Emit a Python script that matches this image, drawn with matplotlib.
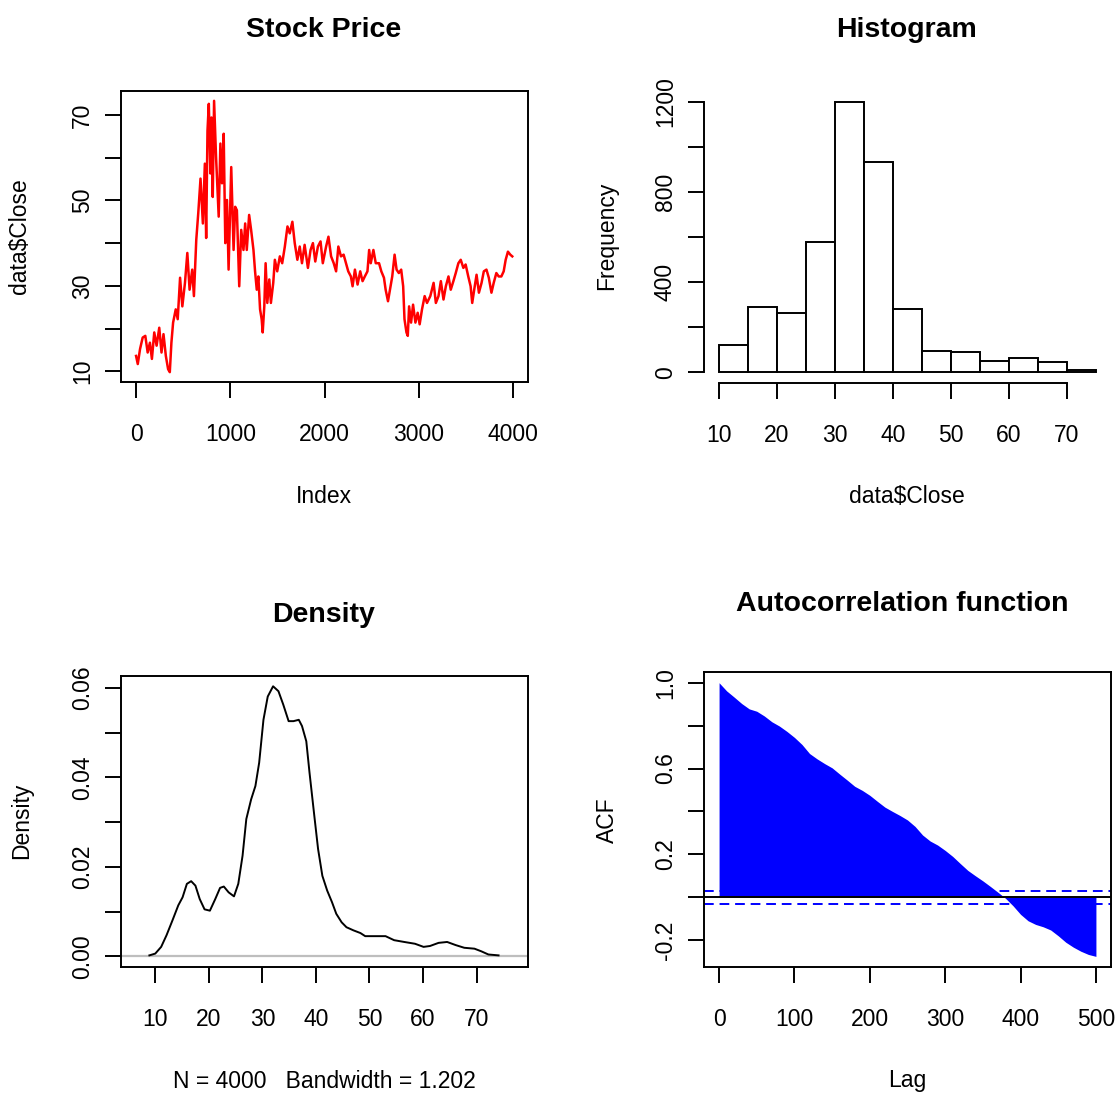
import matplotlib
matplotlib.use('Agg')
from matplotlib import pyplot as plt
import numpy as np

plt.rcParams['font.family'] = ['Liberation Sans', 'DejaVu Sans']

# closing price, sampled along the series (index, value)
price_index = [0, 18, 42, 70, 98, 123, 147, 168, 193, 218, 246, 270, 291, 316, 340, 358,
               375, 393, 421, 442, 467, 491, 519, 544, 568, 596, 614, 639, 660,
               684, 709, 730, 744, 758, 772, 789, 800, 814, 828, 849, 877, 895, 912, 930,
               947, 965, 982, 1010, 1035, 1052,
               1070, 1095, 1116, 1140, 1158, 1175, 1200, 1221, 1246, 1263, 1281, 1298,
               1316, 1333, 1344, 1361, 1375, 1393, 1414, 1431, 1456, 1473, 1498, 1526,
               1551, 1579, 1607, 1631, 1659, 1684, 1712, 1737, 1761, 1789, 1824, 1852,
               1877, 1902, 1930, 1958, 1982, 2017, 2042,
               2070, 2098, 2123, 2147, 2175, 2203, 2228, 2252, 2280, 2298, 2323, 2351,
               2379, 2404, 2428, 2456, 2474, 2491, 2519, 2544, 2579, 2603, 2631, 2649,
               2674, 2695, 2719, 2744, 2765, 2789, 2814, 2835, 2849, 2870, 2884, 2898,
               2919, 2940, 2965, 2989, 3010,
               3035, 3063, 3088, 3123, 3158, 3182, 3210, 3235, 3263, 3288, 3316, 3340,
               3368, 3393, 3421, 3446, 3474, 3498, 3526, 3551, 3568, 3589, 3614, 3639,
               3667, 3691, 3719, 3744, 3772, 3796, 3824, 3849, 3877, 3902, 3923, 3947,
               3972, 3993]
price_close = [13.6, 11.7, 15.2, 17.9, 18.3, 14.4, 16.7, 12.9, 19.1, 16.0, 20.2, 14.4, 18.7,
               13.6, 10.5, 9.8, 16.7, 21.4, 24.5, 22.2, 31.9, 25.2, 30.7, 37.7, 29.1, 33.8,
               27.6, 40.8, 47.0,
               55.1, 44.6, 58.6, 41.2, 66.3, 72.6, 56.3, 69.4, 50.8, 73.3, 60.1, 46.2, 63.3,
               54.0, 65.6, 40.0, 50.1, 33.8, 57.8, 38.4, 48.5,
               47.7, 29.9, 43.1, 38.4, 44.6, 38.4, 46.6, 43.1, 38.4, 33.4, 29.1, 32.2, 24.5,
               22.2, 19.1, 25.2, 35.3, 26.0, 31.5, 26.0, 30.7, 36.1, 33.4, 36.9, 35.3, 39.2,
               43.9, 42.3, 45.0, 40.0, 36.1, 39.2, 35.3, 39.6, 34.2, 38.4, 40.0, 35.7, 39.2,
               40.4, 35.3, 39.2, 41.5,
               36.9, 35.3, 33.4, 39.2, 36.9, 37.3, 35.3, 33.4, 32.2, 29.9, 33.8, 30.3, 33.4,
               31.1, 32.2, 33.4, 38.4, 35.3, 38.4, 35.3, 35.3, 33.4, 31.9, 29.1, 26.4, 29.1,
               32.2, 37.3, 33.8, 33.0, 33.8, 29.9, 22.2, 19.1, 18.3, 25.2, 21.4, 25.6, 21.4,
               23.7, 21.0,
               24.5, 27.6, 26.0, 27.6, 30.7, 26.0, 27.6, 31.1, 26.8, 29.9, 32.2, 29.1, 31.1,
               33.0, 35.3, 36.1, 34.2, 35.0, 32.2, 29.9, 26.0, 29.1, 32.6, 28.4, 30.7, 33.4,
               33.8, 31.9, 28.4, 30.7, 33.0, 32.2, 32.2, 33.4, 36.1, 38.0, 37.3, 36.9]

# histogram of closing prices
hist_edges = [10, 15, 20, 25, 30, 35, 40, 45, 50, 55, 60, 65, 70, 75]
hist_counts = [120, 288, 262, 580, 1200, 932, 280, 95, 88, 50, 62, 45, 8]

# kernel density estimate
dens_x = [8.9, 10.0, 11.1, 12.1, 13.2, 14.3, 15.1, 15.9, 16.7, 17.5, 18.3, 19.2, 20.2,
          21.2, 22.1, 22.8, 23.7, 24.7, 25.5, 26.3, 27.0, 27.9, 28.7, 29.4, 30.2, 31.0,
          32.0, 33.0, 33.9, 34.9, 35.8, 36.8, 37.4, 38.2, 38.8, 39.7, 40.4, 41.2, 42.1,
          43.0, 43.8, 44.8, 45.7, 47.0, 48.3, 49.2, 51.1, 53.0, 54.6, 56.5, 58.5, 60.1,
          61.3, 62.9, 64.5, 66.1, 67.7, 69.6, 70.9, 72.2, 74.1]
dens_y = [0.0002, 0.0006, 0.0021, 0.0047, 0.0080, 0.0114, 0.0132, 0.0162, 0.0168, 0.0158,
          0.0128, 0.0105, 0.0102, 0.0128, 0.0153, 0.0156, 0.0143, 0.0134, 0.0162, 0.0225,
          0.0307, 0.0351, 0.0381, 0.0433, 0.0529, 0.0581, 0.0604, 0.0593, 0.0563, 0.0526,
          0.0526, 0.0529, 0.0515, 0.0481, 0.0411, 0.0314, 0.0240, 0.0180, 0.0147, 0.0121,
          0.0095, 0.0076, 0.0065, 0.0058, 0.0052, 0.0045, 0.0045, 0.0045, 0.0036, 0.0032,
          0.0028, 0.0021, 0.0023, 0.0030, 0.0032, 0.0025, 0.0019, 0.0017, 0.0011, 0.0004,
          0.0002]

# autocorrelation, every 10 lags
acf_lag = list(range(0, 501, 10))
acf_val = [1.000, 0.962, 0.933, 0.903, 0.878, 0.867, 0.845, 0.818, 0.798, 0.773,
           0.745, 0.712, 0.670, 0.645, 0.623, 0.603, 0.574, 0.546, 0.517, 0.498,
           0.475, 0.447, 0.420, 0.400, 0.381, 0.360, 0.330, 0.290, 0.262, 0.243,
           0.218, 0.190, 0.157, 0.125, 0.100, 0.076, 0.050, 0.023, -0.005, -0.040,
           -0.080, -0.110, -0.127, -0.138, -0.153, -0.180, -0.210, -0.233, -0.252,
           -0.267, -0.276]
acf_ci = 0.031

W, H = 1118, 1095
fig = plt.figure(figsize=(W / 100, H / 100), dpi=100)

TICK = 16.5
TITLE = 20.5
LW = 1.4


def px_axes(l, t, r, b):
    return fig.add_axes([l / W, 1 - b / H, (r - l) / W, (b - t) / H])


def ptext(x, y, s, **kw):
    kw.setdefault('ha', 'center')
    kw.setdefault('va', 'center')
    fig.text(x / W, 1 - y / H, s, **kw)


def r_style(ax, yticks, ylabels):
    ax.set_yticks(yticks)
    ax.set_yticklabels(ylabels, rotation=90, va='center')
    ax.tick_params(axis='x', length=11.5, width=LW, pad=18, labelsize=TICK)
    ax.tick_params(axis='y', length=11.5, width=LW, pad=8, labelsize=TICK)
    for s in ax.spines.values():
        s.set_linewidth(LW)


# Stock price
ax1 = px_axes(121, 91, 528, 382)
ax1.plot(price_index, price_close, color='#FF0000', lw=1.8)
ax1.set_xlim(-160, 4160)
ax1.set_ylim(7.5, 75.6)
ax1.set_xticks([0, 1000, 2000, 3000, 4000])
r_style(ax1, [10, 20, 30, 40, 50, 60, 70], ['10', '', '30', '', '50', '', '70'])
ptext(324, 30, 'Stock Price', fontsize=TITLE, fontweight='bold')
ptext(324, 496, 'Index', fontsize=TICK)
ptext(20, 236, 'data$Close', fontsize=TICK, rotation=90)

# Histogram
ax2 = px_axes(704, 91, 1111, 383)
ax2.bar(hist_edges[:-1], hist_counts, width=np.diff(hist_edges), align='edge',
        facecolor='white', edgecolor='black', linewidth=LW)
ax2.set_xlim(7.4, 77.6)
ax2.set_ylim(-48, 1248)
ax2.set_xticks([10, 20, 30, 40, 50, 60, 70])
r_style(ax2, [0, 200, 400, 600, 800, 1000, 1200], ['0', '', '400', '', '800', '', '1200'])
ax2.spines['top'].set_visible(False)
ax2.spines['right'].set_visible(False)
ax2.spines['left'].set_bounds(0, 1200)
ax2.spines['bottom'].set_bounds(10, 70)
ptext(907, 30, 'Histogram', fontsize=TITLE, fontweight='bold')
ptext(907, 496, 'data$Close', fontsize=TICK)
ptext(607, 236, 'Frequency', fontsize=TICK, rotation=90)

# Density
ax3 = px_axes(121, 676, 528, 967)
ax3.axhline(0, color='#BEBEBE', lw=1.6)
ax3.plot(dens_x, dens_y, color='black', lw=1.4)
ax3.set_xlim(3.6, 79.6)
ax3.set_ylim(-0.0024, 0.0627)
ax3.set_xticks([10, 20, 30, 40, 50, 60, 70])
r_style(ax3, [0, 0.01, 0.02, 0.03, 0.04, 0.05, 0.06],
        ['0.00', '', '0.02', '', '0.04', '', '0.06'])
ptext(324, 615, 'Density', fontsize=TITLE, fontweight='bold')
ptext(324, 1081, 'N = 4000   Bandwidth = 1.202', fontsize=TICK)
ptext(22, 821, 'Density', fontsize=TICK, rotation=90)

# Autocorrelation
ax4 = px_axes(704, 672, 1111, 967)
ax4.fill_between(acf_lag, 0, acf_val, color='#0000FF', linewidth=0)
ax4.axhline(0, color='black', lw=1.4)
ax4.axhline(acf_ci, color='#0000FF', lw=1.4, ls=(0, (5, 3)))
ax4.axhline(-acf_ci, color='#0000FF', lw=1.4, ls=(0, (5, 3)))
ax4.set_xlim(-20, 520)
ax4.set_ylim(-0.3255, 1.050)
ax4.set_xticks([0, 100, 200, 300, 400, 500])
r_style(ax4, [-0.2, 0.0, 0.2, 0.4, 0.6, 0.8, 1.0],
        ['-0.2', '', '0.2', '', '0.6', '', '1.0'])
ptext(902, 604, 'Autocorrelation function', fontsize=TITLE, fontweight='bold')
ptext(907, 1081, 'Lag', fontsize=TICK)
ptext(607, 820, 'ACF', fontsize=TICK, rotation=90)

fig.savefig('out.png', dpi=100)
